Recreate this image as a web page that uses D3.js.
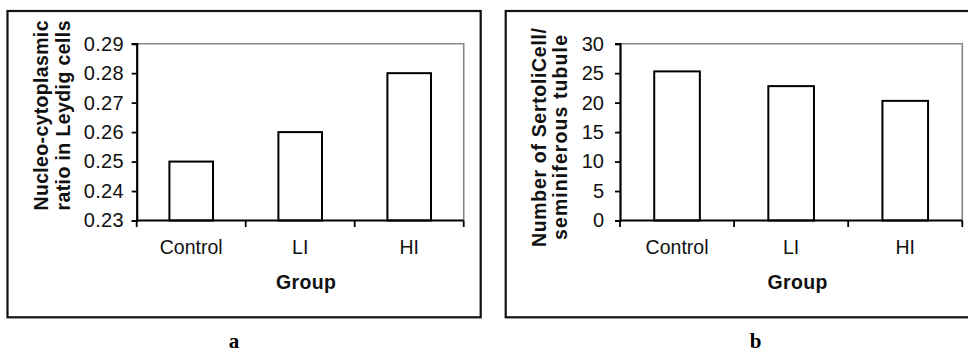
<!DOCTYPE html>
<html><head><meta charset="utf-8">
<script src="https://cdn.jsdelivr.net/npm/d3@7"></script>
<style>
html,body{margin:0;padding:0;background:#fff;}
svg{display:block;}
</style></head>
<body>
<svg id="chart" width="968" height="352"></svg>
<script>
// ---- data ----
const categories = ["Control", "LI", "HI"];
const ratioValues = [0.25, 0.26, 0.28];
const ratioTicks = [0.23, 0.24, 0.25, 0.26, 0.27, 0.28, 0.29];
const sertoliValues = [25.3, 22.8, 20.3];
const sertoliTicks = [0, 5, 10, 15, 20, 25, 30];
const ratioTitle = ["Nucleo-cytoplasmic", "ratio in Leydig cells"];
const sertoliTitle = ["Number of SertoliCell/", "seminiferous tubule"];
const xTitle = "Group";
const panelLabels = ["a", "b"];

const svg = d3.select("#chart");
const FONT = "'Liberation Sans', Arial, sans-serif";

const panels = [
  {
    values: ratioValues, ticks: ratioTicks, domain: [0.23, 0.29], fmt: d3.format(".2f"),
    title: ratioTitle, label: panelLabels[0],
    box: [7.5, 11, 480.7, 317.3],
    plot: [136.7, 43.7, 463.7, 220.5],
    tickPad: 8, tickLen: 40,
    titleX: [48, 70], titleLen: [190, 190], titleCY: 115.5,
    groupX: 306, labelX: 234
  },
  {
    values: sertoliValues, ticks: sertoliTicks, domain: [0, 30], fmt: d3.format("d"),
    title: sertoliTitle, label: panelLabels[1],
    box: [505.7, 11, 980, 317.3],
    plot: [620, 43.7, 962.3, 220.5],
    tickPad: 11, tickLen: null,
    titleX: [545.5, 566.5], titleLen: [219, 205], titleCY: 137.5,
    groupX: 797.5, labelX: 755.5
  }
];

panels.forEach(p => {
  const g = svg.append("g");
  // outer frame
  g.append("rect")
    .attr("x", p.box[0]).attr("y", p.box[1])
    .attr("width", p.box[2] - p.box[0]).attr("height", p.box[3] - p.box[1])
    .attr("fill", "none").attr("stroke", "#111").attr("stroke-width", 2.2);

  const [x0, y0, x1, y1] = p.plot;
  const x = d3.scaleBand().domain(categories).range([x0, x1])
    .paddingInner(0.6).paddingOuter(0.3);
  const y = d3.scaleLinear().domain(p.domain).range([y1, y0]);

  // plot area border (gray top & right)
  g.append("path")
    .attr("d", `M${x0},${y0}H${x1}V${y1}`)
    .attr("fill", "none").attr("stroke", "#888").attr("stroke-width", 1.6);

  // bars
  g.selectAll("rect.bar").data(p.values).join("rect")
    .attr("class", "bar")
    .attr("x", (d, i) => x(categories[i]))
    .attr("y", d => y(d))
    .attr("width", x.bandwidth())
    .attr("height", d => y(p.domain[0]) - y(d))
    .attr("fill", "#fff").attr("stroke", "#000").attr("stroke-width", 2);

  // y axis
  const ya = g.append("g").attr("transform", `translate(${x0},0)`)
    .call(d3.axisLeft(y).tickValues(p.ticks).tickSize(5).tickPadding(p.tickPad).tickFormat(p.fmt));
  ya.select(".domain").attr("stroke", "#000").attr("stroke-width", 2.2);
  ya.selectAll(".tick line").attr("stroke", "#000").attr("stroke-width", 1.8);
  const tt = ya.selectAll(".tick text").attr("font-family", FONT).attr("font-size", 20).attr("fill", "#111");
  if (p.tickLen) tt.attr("textLength", p.tickLen).attr("lengthAdjust", "spacing");

  // x axis line + boundary ticks
  g.append("line").attr("x1", x0).attr("x2", x1).attr("y1", y1).attr("y2", y1)
    .attr("stroke", "#000").attr("stroke-width", 2.2);
  const bounds = d3.range(categories.length + 1).map(i => x0 + i * x.step());
  g.selectAll("line.xt").data(bounds).join("line").attr("class", "xt")
    .attr("x1", d => d).attr("x2", d => d).attr("y1", y1).attr("y2", y1 + 6.5)
    .attr("stroke", "#000").attr("stroke-width", 1.8);

  // category labels
  g.selectAll("text.cat").data(categories).join("text").attr("class", "cat")
    .attr("x", d => x(d) + x.bandwidth() / 2).attr("y", 254)
    .attr("text-anchor", "middle").attr("font-family", FONT).attr("font-size", 19.5)
    .attr("fill", "#111").text(d => d);

  // x title
  g.append("text").attr("x", p.groupX).attr("y", 288.5)
    .attr("text-anchor", "middle").attr("font-family", FONT).attr("font-size", 19.5)
    .attr("font-weight", "bold").attr("fill", "#111")
    .attr("textLength", 60).attr("lengthAdjust", "spacing").text(xTitle);

  // y title (two lines, rotated)
  p.title.forEach((t, i) => {
    g.append("text")
      .attr("transform", `translate(${p.titleX[i]},${p.titleCY}) rotate(-90)`)
      .attr("text-anchor", "middle").attr("font-family", FONT).attr("font-size", 19.5)
      .attr("font-weight", "bold").attr("fill", "#111")
      .attr("textLength", p.titleLen[i]).attr("lengthAdjust", "spacing").text(t);
  });

  // panel label
  g.append("text").attr("x", p.labelX).attr("y", 348)
    .attr("text-anchor", "middle").attr("font-family", "'Liberation Serif', 'Times New Roman', serif")
    .attr("font-size", 21).attr("font-weight", "bold").attr("fill", "#000").text(p.label);
});
</script>
</body></html>
